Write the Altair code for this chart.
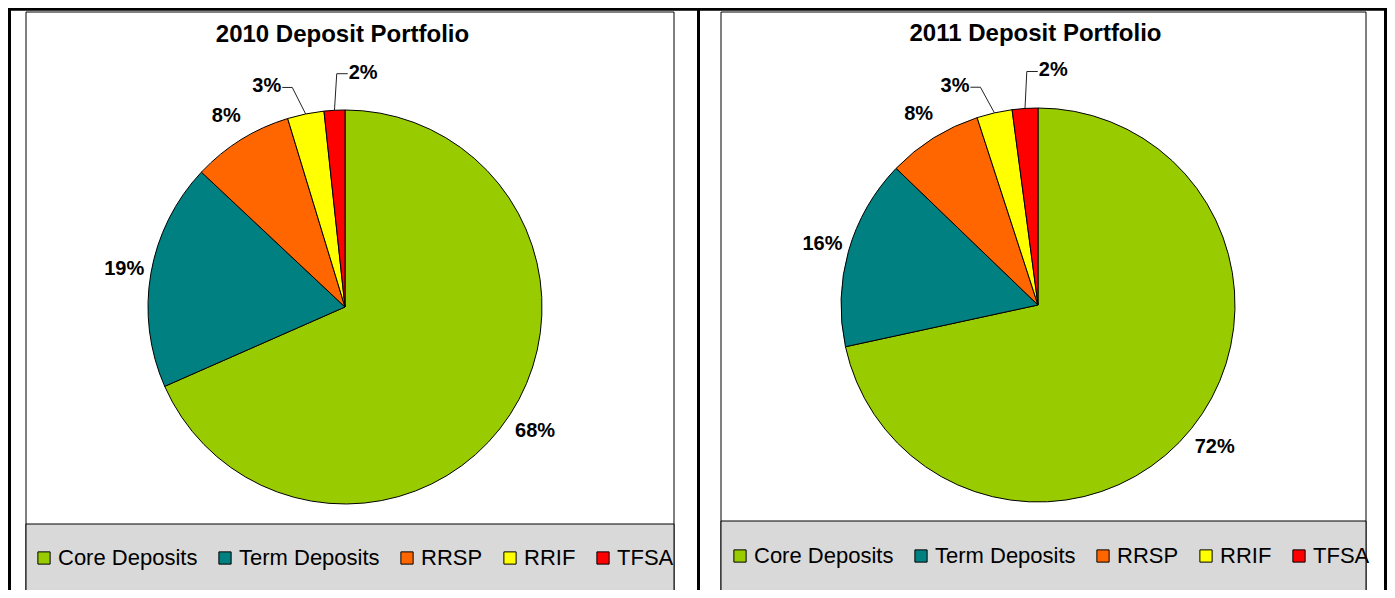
import math
import altair as alt
import pandas as pd

# ---------------- data ----------------
categories = ["Core Deposits", "Term Deposits", "RRSP", "RRIF", "TFSA"]
share_2010 = [68.4, 18.6, 8.3, 3.0, 1.7]
share_2011 = [71.6, 15.6, 7.8, 2.9, 2.1]
titles = ["2010 Deposit Portfolio", "2011 Deposit Portfolio"]

# ---------------- style / layout ----------------
colors = ["#99CC00", "#008080", "#FF6600", "#FFFF00", "#FF0000"]
W, H = 1379, 582
FONT = "Liberation Sans"
R = 197
LABEL_RADIUS = [227, 224, 225, 234, 235]
LABEL_NUDGE_DEG = [0, 0, 0, -8, 7.5]
LEADER = [False, False, False, True, True]
LABEL_SIZE = 20

panels = [
    dict(shares=share_2010, title=titles[0], cx=337, cy=299, title_xy=(334.5, 27),
         box=(18, 666, 4, 586), grey_top=516, legend_xy=(25, 539)),
    dict(shares=share_2011, title=titles[1], cx=1030, cy=297, title_xy=(1027.5, 26),
         box=(713, 1358, 4, 583), grey_top=513, legend_xy=(721, 537)),
]

xs = alt.Scale(domain=[0, W], range=[0, W], nice=False, zero=False)
ys = alt.Scale(domain=[0, H], range=[0, H], nice=False, zero=False)
one = pd.DataFrame({"k": [0]})


def text_half_width(s):
    w = {"%": 0.889}
    return sum(w.get(c, 0.556) for c in s) * LABEL_SIZE / 2


layers = []
# outer white background
layers.append(alt.Chart(one).mark_rect(fill="white").encode(
    x=alt.value(0), x2=alt.value(W), y=alt.value(0), y2=alt.value(H)))

for p in panels:
    x0, x1, y0, y1 = p["box"]
    layers.append(alt.Chart(one).mark_rect(fill="white", stroke="black", strokeWidth=1).encode(
        x=alt.value(x0), x2=alt.value(x1), y=alt.value(y0), y2=alt.value(y1)))
    layers.append(alt.Chart(one).mark_rect(fill="#D9D9D9", stroke="black", strokeWidth=1).encode(
        x=alt.value(x0), x2=alt.value(x1), y=alt.value(p["grey_top"]), y2=alt.value(y1)))

for p in panels:
    shares = p["shares"]
    total = sum(shares)
    df = pd.DataFrame({"category": categories, "share": shares, "idx": range(len(categories))})
    cx, cy = p["cx"], p["cy"]
    lx, ly = p["legend_xy"]

    arc = alt.Chart(df).mark_arc(radius=R, stroke="black", strokeWidth=1).encode(
        theta=alt.Theta("share:Q", stack=True),
        order=alt.Order("idx:Q"),
        color=alt.Color("category:N",
                        scale=alt.Scale(domain=categories, range=colors),
                        legend=alt.Legend(orient="none", legendX=lx, legendY=ly,
                                          direction="horizontal", title=None,
                                          labelFont=FONT, labelFontSize=22, labelColor="black",
                                          symbolType="square", symbolSize=150,
                                          symbolStrokeColor="black", symbolStrokeWidth=1,
                                          symbolOpacity=1, labelOffset=3, columnPadding=16,
                                          padding=0, labelLimit=0)),
        stroke=alt.value("black"),
        x=alt.value(cx), y=alt.value(cy),
    )
    layers.append(arc)

    # labels and leader lines, positioned from cumulative shares
    lab_rows, lead_rows = [], []
    cum = 0.0
    for i, (c, v) in enumerate(zip(categories, shares)):
        mid = (cum + v / 2) / total * 2 * math.pi
        cum += v
        ang = mid + math.radians(LABEL_NUDGE_DEG[i])
        tx = cx + LABEL_RADIUS[i] * math.sin(ang)
        ty = cy - LABEL_RADIUS[i] * math.cos(ang)
        txt = f"{round(v / total * 100)}%"
        lab_rows.append({"x": tx, "y": ty, "text": txt})
        if LEADER[i]:
            ax = cx + R * math.sin(mid)
            ay = cy - R * math.cos(mid)
            hw = text_half_width(txt)
            if tx < ax:
                ex = tx + hw + 1
                bx = ex + 10
            else:
                ex = tx - hw - 1
                bx = ex - 11
            ey = ty + 1
            for s, (px, py) in enumerate([(ex, ey), (bx, ey), (ax, ay)]):
                lead_rows.append({"g": c, "s": s, "x": px, "y": py})

    layers.append(alt.Chart(pd.DataFrame(lead_rows)).mark_line(color="#222222", strokeWidth=1).encode(
        x=alt.X("x:Q", scale=xs, axis=None),
        y=alt.Y("y:Q", scale=ys, axis=None),
        detail="g:N", order="s:Q"))
    layers.append(alt.Chart(pd.DataFrame(lab_rows)).mark_text(
        font=FONT, fontSize=LABEL_SIZE, fontWeight="bold", color="black",
        align="center", baseline="middle").encode(
        x=alt.X("x:Q", scale=xs, axis=None),
        y=alt.Y("y:Q", scale=ys, axis=None),
        text="text:N"))

    tx, ty = p["title_xy"]
    layers.append(alt.Chart(pd.DataFrame({"t": [p["title"]]})).mark_text(
        font=FONT, fontSize=24, fontWeight="bold", color="black",
        align="center", baseline="middle").encode(
        x=alt.value(tx), y=alt.value(ty), text="t:N"))

# outer table border and divider
layers.append(alt.Chart(one).mark_rect(fill=None, stroke="black", strokeWidth=3).encode(
    x=alt.value(1.5), x2=alt.value(W - 1.5), y=alt.value(1.2), y2=alt.value(H + 10)))
layers.append(alt.Chart(one).mark_rule(color="black", strokeWidth=3).encode(
    x=alt.value(690.5), y=alt.value(0), y2=alt.value(H)))

chart = alt.layer(*layers).resolve_scale(
    color="independent", theta="independent"
).properties(
    width=W, height=H, padding=0,
    autosize=alt.AutoSizeParams(type="none"),
).configure_view(stroke=None).configure_legend(
    symbolStrokeColor="black", symbolStrokeWidth=1
)

chart.save("out.html", embed_options={"renderer": "svg", "actions": False})
